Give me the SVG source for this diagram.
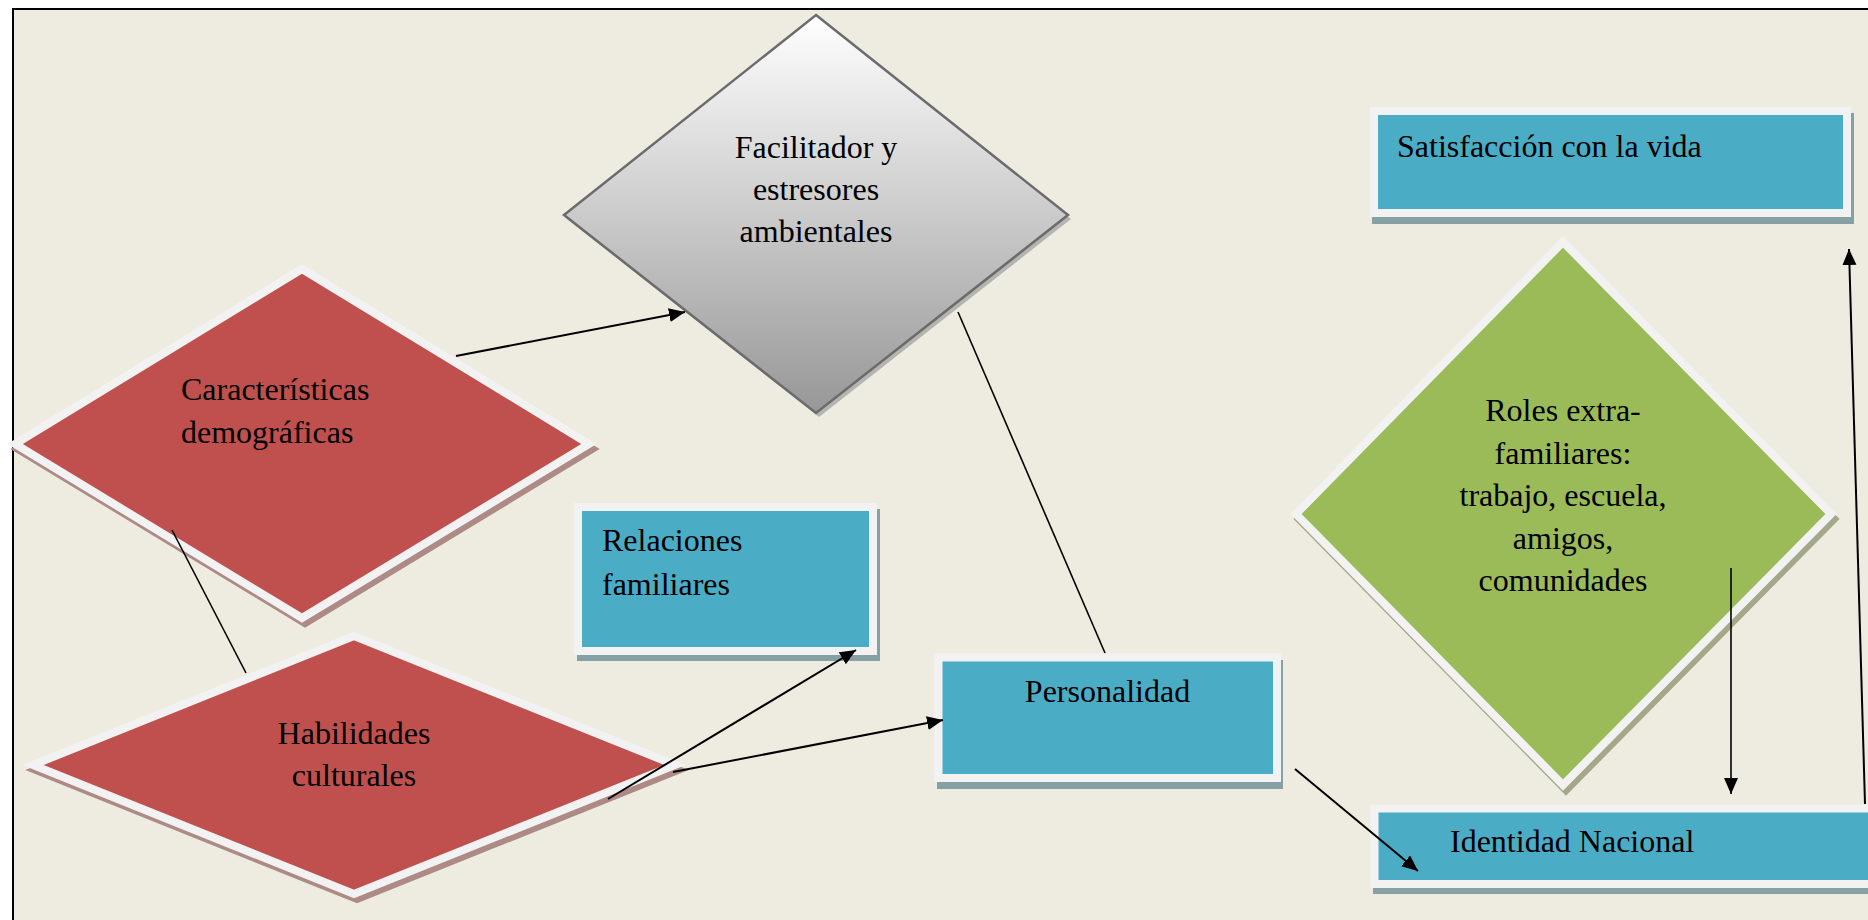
<svg xmlns="http://www.w3.org/2000/svg" width="1868" height="920" viewBox="0 0 1868 920">
  <defs>
    <linearGradient id="grayFill" x1="0" y1="0" x2="0" y2="1">
      <stop offset="0" stop-color="#ffffff"/>
      <stop offset="1" stop-color="#979797"/>
    </linearGradient>
    <marker id="arrow" markerUnits="userSpaceOnUse" markerWidth="17" markerHeight="15" refX="16" refY="7" orient="auto">
      <path d="M0,0 L16,7 L0,14 Z" fill="#000"/>
    </marker>
    <style>
      .label { font-family: "Liberation Serif", "Times New Roman", serif; font-size: 32px; fill: #000; }
      .mid { text-anchor: middle; }
      .red { fill: #C0504D; stroke: #F2F2F2; stroke-width: 8; stroke-linejoin: miter; }
      .redShadow { fill: #AD8A85; stroke: #AD8A85; stroke-width: 8; }
      .green { fill: #9BBB59; stroke: #F2F2F2; stroke-width: 8; }
      .greenShadow { fill: #A4A889; stroke: #A4A889; stroke-width: 8; }
      .box { fill: #4BACC6; stroke: #F2F2F2; stroke-width: 8; }
      .boxShadow { fill: #86A1A4; }
      .gray { fill: url(#grayFill); stroke: #6B6B6B; stroke-width: 2.5; }
      .grayShadow { fill: #B4B4B0; }
      .link { stroke: #000; stroke-width: 2; fill: none; }
      .thin { stroke: #000; stroke-width: 1.6; fill: none; }
    </style>
  </defs>

  <!-- page and framed canvas -->
  <rect x="0" y="0" width="1868" height="920" fill="#ffffff"/>
  <rect x="13" y="9" width="1900" height="1000" fill="#EEECE1" stroke="#000" stroke-width="2"/>

  <!-- environmental facilitators diamond -->
  <g id="facilitador">
    <polygon class="grayShadow" points="819,19 1071,219 819,417 567,219"/>
    <polygon class="gray" points="816,15 1068,215 816,413 564,215"/>
    <text class="label mid" x="816" y="158">Facilitador y</text>
    <text class="label mid" x="816" y="200">estresores</text>
    <text class="label mid" x="816" y="242">ambientales</text>
  </g>

  <!-- demographic characteristics -->
  <g id="caracteristicas">
    <polygon class="redShadow" points="305,274 592,449 305,623 18,449"/>
    <polygon class="red" points="302,269 589,444 302,618 15,444"/>
    <text class="label" x="181" y="400">Características</text>
    <text class="label" x="181" y="443">demográficas</text>
  </g>

  <!-- cultural skills -->
  <g id="habilidades">
    <polygon class="redShadow" points="357,641 678,770 357,899 36,770"/>
    <polygon class="red" points="354,636 675,765 354,894 33,765"/>
    <text class="label mid" x="354" y="744">Habilidades</text>
    <text class="label mid" x="354" y="786">culturales</text>
  </g>

  <!-- family relations -->
  <g id="relaciones">
    <rect class="boxShadow" x="577" y="509" width="303" height="152"/>
    <rect class="box" x="578" y="507" width="295" height="144"/>
    <text class="label" x="602" y="551">Relaciones</text>
    <text class="label" x="602" y="595">familiares</text>
  </g>

  <!-- personality -->
  <g id="personalidad">
    <rect class="boxShadow" x="937" y="660" width="346" height="129"/>
    <rect class="box" x="938.5" y="657.5" width="338.5" height="120.5"/>
    <text class="label mid" x="1107.5" y="702">Personalidad</text>
  </g>

  <!-- extra-family roles -->
  <g id="roles">
    <polygon class="greenShadow" points="1566,247 1834,519 1566,790 1299,519"/>
    <polygon class="green" points="1563,242 1831,514 1563,785 1296,514"/>
    <text class="label mid" x="1563" y="421">Roles extra-</text>
    <text class="label mid" x="1563" y="464">familiares:</text>
    <text class="label mid" x="1563" y="506">trabajo, escuela,</text>
    <text class="label mid" x="1563" y="549">amigos,</text>
    <text class="label mid" x="1563" y="591">comunidades</text>
  </g>

  <!-- life satisfaction -->
  <g id="satisfaccion">
    <rect class="boxShadow" x="1372" y="113" width="482" height="111"/>
    <rect class="box" x="1374" y="111" width="473" height="102"/>
    <text class="label" x="1397" y="157">Satisfacción con la vida</text>
  </g>

  <!-- national identity -->
  <g id="identidad">
    <rect class="boxShadow" x="1373" y="811" width="560" height="83"/>
    <rect class="box" x="1374.5" y="808.5" width="560" height="75.5"/>
    <text class="label" x="1450" y="852">Identidad Nacional</text>
  </g>

  <!-- connectors -->
  <g id="connectors">
    <line class="link" x1="456" y1="356" x2="685" y2="312" marker-end="url(#arrow)"/>
    <line class="thin" x1="958" y1="312" x2="1105" y2="653"/>
    <line class="thin" x1="172" y1="530" x2="246" y2="673"/>
    <line class="link" x1="608" y1="799" x2="856" y2="650" marker-end="url(#arrow)"/>
    <line class="link" x1="673" y1="772" x2="943" y2="720" marker-end="url(#arrow)"/>
    <line class="link" x1="1295" y1="769" x2="1418" y2="871" marker-end="url(#arrow)"/>
    <line class="thin" x1="1731" y1="568" x2="1731" y2="794" marker-end="url(#arrow)"/>
    <line class="link" x1="1865" y1="804" x2="1849" y2="249" marker-end="url(#arrow)"/>
  </g>
</svg>
